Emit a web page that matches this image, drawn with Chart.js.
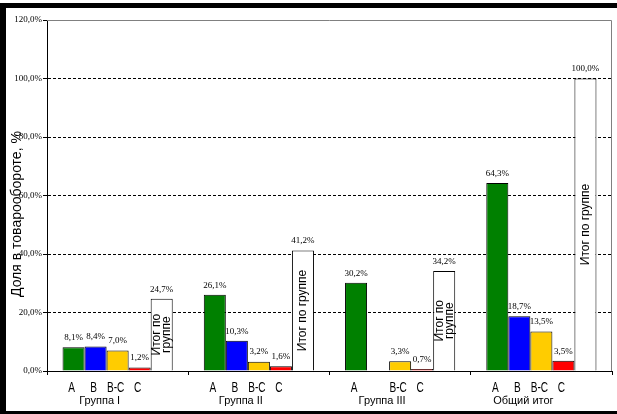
<!DOCTYPE html>
<html>
<head>
<meta charset="utf-8">
<script src="https://cdn.jsdelivr.net/npm/chart.js@4.4.0/dist/chart.umd.min.js"></script>
<style>
html, body { margin: 0; padding: 0; background: #fff; }
#wrap { width: 617px; height: 414px; }
</style>
</head>
<body>
<div id="wrap"><canvas id="abc-chart"></canvas></div>
<script>
const groups = ['Группа I', 'Группа II', 'Группа III', 'Общий итог'];
const subLabels = ['A', 'B', 'B-C', 'C', ''];
const shareA = [8.1, 26.1, 30.2, 64.3];
const shareB = [8.4, 10.3, null, 18.7];
const shareBC = [7.0, 3.2, 3.3, 13.5];
const shareC = [1.2, 1.6, 0.7, 3.5];
const shareTotal = [24.7, 41.2, 34.2, 100.0];
const yTicks = [0, 20, 40, 60, 80, 100, 120];
const totalText = 'Итог по группе';
const yTitle = 'Доля в товарообороте, %';

const SERIF = "'Liberation Serif', 'Times New Roman', serif";
const SANS = "'Liberation Sans', Arial, sans-serif";

function pct(v) {
    return v.toFixed(1).replace('.', ',') + '%';
}

// frame, plot border, labels on bars, rotated axis title
const abcLabels = {
    id: 'abcLabels',
    beforeDatasetsDraw(chart) {
        const ctx = chart.ctx;
        const a = chart.chartArea;
        ctx.save();
        ctx.strokeStyle = '#808080';
        ctx.lineWidth = 1;
        ctx.beginPath();
        ctx.moveTo(a.left, a.top + 0.5);
        ctx.lineTo(a.right - 0.5, a.top + 0.5);
        ctx.lineTo(a.right - 0.5, a.bottom);
        ctx.stroke();
        ctx.restore();
    },
    afterDatasetsDraw(chart) {
        const ctx = chart.ctx;
        ctx.save();
        ctx.fillStyle = '#000';
        chart.data.datasets.forEach((ds, i) => {
            const meta = chart.getDatasetMeta(i);
            meta.data.forEach((bar, j) => {
                const v = ds.data[j];
                if (v === null) return;
                // value above bar
                ctx.font = '9px ' + SERIF;
                ctx.textAlign = 'center';
                ctx.textBaseline = 'bottom';
                ctx.fillText(pct(v), bar.x, bar.y - 5);
                // sub category under bar (narrow look)
                if (subLabels[i]) {
                    ctx.save();
                    ctx.font = '14px ' + SANS;
                    ctx.textBaseline = 'middle';
                    ctx.translate(bar.x - 2, 388);
                    ctx.scale(0.72, 1);
                    ctx.fillText(subLabels[i], 0, 0);
                    ctx.restore();
                }
                // text inside total bar
                if (i === 4) {
                    ctx.save();
                    ctx.font = '12px ' + SANS;
                    ctx.textAlign = 'center';
                    ctx.textBaseline = 'middle';
                    ctx.translate(bar.x, (bar.y + bar.base) / 2);
                    ctx.rotate(-Math.PI / 2);
                    const h = bar.base - bar.y;
                    if (ctx.measureText(totalText).width > h - 25) {
                        const words = totalText.split(' ');
                        ctx.fillText(words.slice(0, 2).join(' '), 0, -5);
                        ctx.fillText(words.slice(2).join(' '), 0, 5);
                    } else {
                        ctx.fillText(totalText, 0, 0);
                    }
                    ctx.restore();
                }
            });
        });
        ctx.restore();
    },
    afterDraw(chart) {
        const ctx = chart.ctx;
        ctx.save();
        ctx.fillStyle = '#000';
        ctx.font = '14px ' + SANS;
        ctx.textAlign = 'left';
        ctx.textBaseline = 'middle';
        ctx.translate(17, 297);
        ctx.rotate(-Math.PI / 2);
        ctx.fillText(yTitle, 0, 0);
        ctx.restore();

        ctx.save();
        ctx.fillStyle = '#000';
        ctx.fillRect(0, 3, 617, 5);
        ctx.fillRect(0, 3, 6, 411);
        ctx.fillRect(0, 411, 617, 3);
        ctx.restore();
    }
};

Chart.defaults.color = '#000';

const barStyle = {
    borderColor: '#000',
    borderWidth: 1,
    barPercentage: 1,
    categoryPercentage: 0.78
};

var abc_chart = document.getElementById('abc-chart').getContext('2d');
var myChart = new Chart(abc_chart, {
    type: 'bar',
    data: {
        labels: groups,
        datasets: [
            Object.assign({ label: 'A', data: shareA, backgroundColor: '#008000' }, barStyle),
            Object.assign({ label: 'B', data: shareB, backgroundColor: '#0000ff' }, barStyle),
            Object.assign({ label: 'B-C', data: shareBC, backgroundColor: '#ffcc00' }, barStyle),
            Object.assign({ label: 'C', data: shareC, backgroundColor: '#ff0000' }, barStyle),
            Object.assign({ label: totalText, data: shareTotal, backgroundColor: '#ffffff' }, barStyle)
        ]
    },
    options: {
        animation: false,
        responsive: true,
        maintainAspectRatio: false,
        layout: {
            padding: { left: 6, right: 5, top: 20, bottom: 3 }
        },
        plugins: {
            legend: { display: false },
            tooltip: { enabled: false }
        },
        scales: {
            x: {
                grid: {
                    offset: true,
                    drawOnChartArea: false,
                    color: '#000',
                    tickLength: 4
                },
                border: { color: '#000' },
                ticks: {
                    font: { family: SANS, size: 11 },
                    padding: 19,
                    labelOffset: -18,
                    maxRotation: 0,
                    autoSkip: false
                },
                afterFit: s => { s.height = 40; }
            },
            y: {
                min: 0,
                max: 120,
                afterBuildTicks: s => { s.ticks = yTicks.map(v => ({ value: v })); },
                grid: {
                    color: c => (c.tick && c.tick.value === 120) ? 'rgba(0,0,0,0)' : '#000',
                    tickColor: '#000',
                    tickLength: 4
                },
                border: { color: '#000', dash: [3, 2] },
                ticks: {
                    font: { family: SERIF, size: 9 },
                    padding: 1,
                    callback: v => pct(v)
                },
                afterFit: s => { s.width = 41; }
            }
        }
    },
    plugins: [abcLabels]
});
</script>
</body>
</html>
